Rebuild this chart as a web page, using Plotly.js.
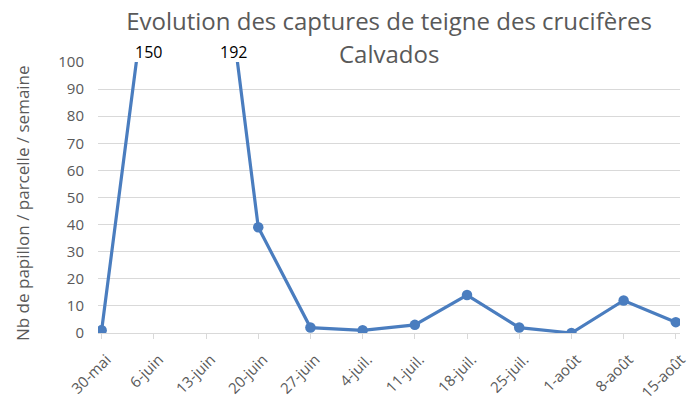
<!DOCTYPE html>
<html><head><meta charset="utf-8">
<script src="https://cdn.plot.ly/plotly-3.0.1.min.js"></script>
<style>html,body{margin:0;padding:0;background:#fff}#chart{width:691px;height:401px}</style>
</head><body><div id="chart"></div>
<script>
const categories = ["30-mai","6-juin","13-juin","20-juin","27-juin","4-juil.","11-juil.","18-juil.","25-juil.","1-août","8-août","15-août"];
const captures = [1, 150, 192, 39, 2, 1, 3, 14, 2, 0, 12, 4];
const yTicks = [0,10,20,30,40,50,60,70,80,90,100];
const yMax = 100;

const FONT = 'Open Sans, sans-serif';
const idx = categories.map((c,i)=>i);
// data labels for values above the visible axis maximum, placed where the line leaves the plot
const annotations = [];
captures.forEach((v,i)=>{
  if (v > yMax) {
    const prev = captures[i-1], next = captures[i+1];
    let xc, shift;
    if (prev !== undefined && prev <= yMax) { xc = (i-1) + (yMax-prev)/(v-prev); shift = 12; }
    else { xc = i + (v-yMax)/(v-next); shift = -4; }
    annotations.push({x:xc, y:yMax, xref:'x', yref:'y', text:String(v), showarrow:false,
      yanchor:'bottom', xanchor:'center', xshift:shift, yshift:-3,
      font:{family:FONT, size:16, color:'#000'}});
  }
});
annotations.push({x:0.5, y:1, xref:'paper', yref:'paper', text:'Calvados', showarrow:false,
  yanchor:'bottom', yshift:-10, font:{family:FONT, size:24, color:'#595959'}});
annotations.push({x:0, y:0.5, xref:'paper', yref:'paper', text:'Nb de papillon / parcelle / semaine',
  showarrow:false, textangle:-90, xanchor:'center', yanchor:'middle', xshift:-75.5, yshift:-6,
  font:{family:FONT, size:17, color:'#595959'}});

Plotly.newPlot('chart', [{
  x: idx, y: captures, type:'scatter', mode:'lines+markers',
  line:{color:'#4a7dbf', width:3.2}, marker:{color:'#4a7dbf', size:10.5},
  cliponaxis:true, hoverinfo:'none'
}], {
  width:691, height:401,
  margin:{l:98, r:11, t:62, b:68},
  paper_bgcolor:'#fff', plot_bgcolor:'#fff',
  showlegend:false,
  title:{text:'Evolution des captures de teigne des crucifères', x:0.563, xanchor:'center',
    yref:'container', y:0.945, yanchor:'middle',
    font:{family:FONT, size:24, color:'#595959'}},
  xaxis:{type:'linear', range:[-0.07, 11.08], tickvals:idx, ticktext:categories, tickangle:-45,
    showgrid:false, zeroline:false, showline:true, linecolor:'#d9d9d9', linewidth:1,
    ticks:'outside', ticklen:5, tickcolor:'#d9d9d9', ticklabelshift:5, ticklabelstandoff:6,
    tickfont:{family:FONT, size:15, color:'#595959'}},
  yaxis:{range:[0, yMax], tickvals:yTicks, showgrid:true, gridcolor:'#d9d9d9', gridwidth:1,
    zeroline:false, showline:false, ticks:'', ticklabelstandoff:13,
    tickfont:{family:FONT, size:15, color:'#595959'}},
  annotations: annotations
}, {staticPlot:true});
</script></body></html>
